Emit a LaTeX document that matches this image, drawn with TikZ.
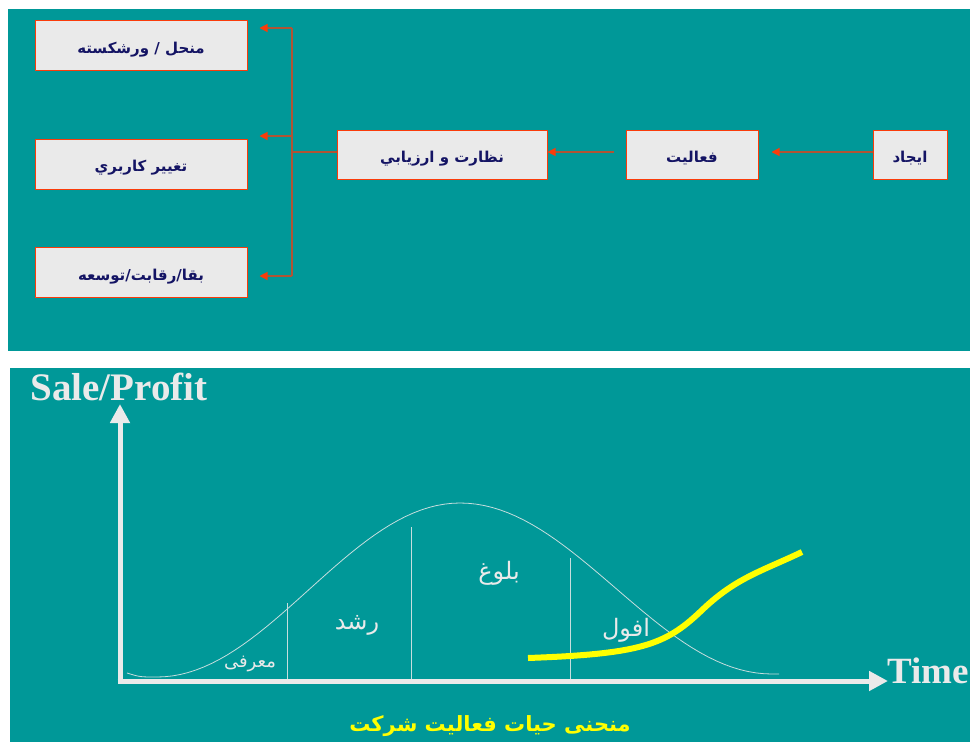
\documentclass[tikz,border=0pt]{standalone}
\usepackage{fontspec}
\setmainfont{Liberation Serif}
\newfontfamily\arabicfont[Script=Arabic]{DejaVu Sans}
\TeXXeTstate=1
\usetikzlibrary{arrows.meta}
\definecolor{sea}{RGB}{0,152,152}
\definecolor{boxgray}{RGB}{234,234,234}
\definecolor{boxline}{RGB}{250,60,10}
\definecolor{ink}{RGB}{20,20,100}
\definecolor{link}{RGB}{176,84,52}
\definecolor{chalk}{RGB}{234,234,234}
\definecolor{lemon}{RGB}{255,255,0}
\newcommand{\pers}[1]{\beginR#1\endR}
\begin{document}
\begin{tikzpicture}[x=1pt,y=-1pt,line join=round,
  stage/.style={draw=boxline,fill=boxgray,line width=1pt,inner sep=0pt,
    minimum height=50pt,text height=20pt,text depth=5pt,text=ink,
    font=\arabicfont\fontsize{15}{18}\selectfont\bfseries},
  flow/.style={draw=link,line width=1.1pt,-{Triangle[length=8pt,width=8pt,color=boxline]}},
  axis/.style={draw=chalk,line width=5pt,-{Triangle[length=19pt,width=19pt]}},
  thin/.style={draw=chalk!85!sea,line width=0.8pt},
  phase/.style={text=chalk,font=\arabicfont\fontsize{24}{26}\selectfont}]
\useasboundingbox (0,0) rectangle (970,742);
\fill[sea] (8,9) rectangle (970,351);
\fill[sea] (10,368) rectangle (970,742);

\node[stage,minimum width=212pt] (closure) at (141,45.5) {\pers{منحل / ورشکسته}};
\node[stage,minimum width=212pt] (reuse) at (141,164) {\pers{تغيير كاربري}};
\node[stage,minimum width=212pt] (growth) at (141,272.5) {\pers{بقا/رقابت/توسعه}};
\node[stage,minimum width=210pt,minimum height=49pt] (monitor) at (442,154.5) {\pers{نظارت و ارزيابي}};
\node[stage,minimum width=132pt,minimum height=49pt] (activity) at (692,154.5) {\pers{فعاليت}};
\node[stage,minimum width=74pt,minimum height=49pt] (create) at (910,154.5) {\pers{ايجاد}};

\coordinate (fork) at (292,152);
\coordinate (jA) at (292,28);
\coordinate (jB) at (292,136);
\coordinate (jC) at (292,276);
\path (closure.east |- jA) ++(12,0) coordinate (tA)
      (reuse.east |- jB) ++(12,0) coordinate (tB)
      (growth.east |- jC) ++(12,0) coordinate (tC)
      (activity.east |- fork) ++(13,0) coordinate (tD)
      (activity.west |- fork) ++(-12,0) coordinate (sE);

\draw[flow] (create.west |- fork) -- (tD);
\draw[flow] (sE) -- (monitor.east |- fork);
\draw[draw=link,line width=1.1pt] (monitor.west |- fork) -- (fork) (jA) -- (jC);
\draw[flow] (jA) -- (tA);
\draw[flow] (jB) -- (tB);
\draw[flow] (jC) -- (tC);

\node[text=chalk,font=\fontsize{39}{39}\selectfont\bfseries,anchor=base west] (ylab) at (27,400) {Sale/Profit};
\node[text=chalk,font=\fontsize{37}{37}\selectfont\bfseries,anchor=base west] (xlab) at (884,683) {Time};
\coordinate (O) at (120,681);
\draw[axis] (O) ++(0,2.5) -- (120,404);
\draw[axis] (O) ++(-2.5,0) -- (888,681);

\draw[thin] (127,673) .. controls (140,677) .. (157,677)
  -- plot[domain=157:460,samples=40] (\x,{677-87*(1-cos(0.5941*(\x-157)))})
  -- plot[domain=460:772,samples=40] (\x,{674-85.5*(1+cos(0.5769*(\x-460)))})
  -- (779,674);
\draw[thin] (287,603) -- (287,679) (411,527) -- (411,679) (570,558) -- (570,679);
\draw[lemon,line width=6pt] (528,658) .. controls (640,654) and (665,645) .. (700,612)
  .. controls (735,578) and (760,572) .. (802,552);

\node[phase,font=\arabicfont\fontsize{18}{20}\selectfont] (intro) at (250,664) {\pers{معرفی}};
\node[phase] (rise) at (357,625) {\pers{رشد}};
\node[phase] (mature) at (499,573) {\pers{بلوغ}};
\node[phase] (decline) at (626,630) {\pers{افول}};
\node[text=lemon,font=\arabicfont\fontsize{21}{24}\selectfont\bfseries] (title) at (490,726) {\pers{منحنی حيات فعاليت شركت}};
\end{tikzpicture}
\end{document}
